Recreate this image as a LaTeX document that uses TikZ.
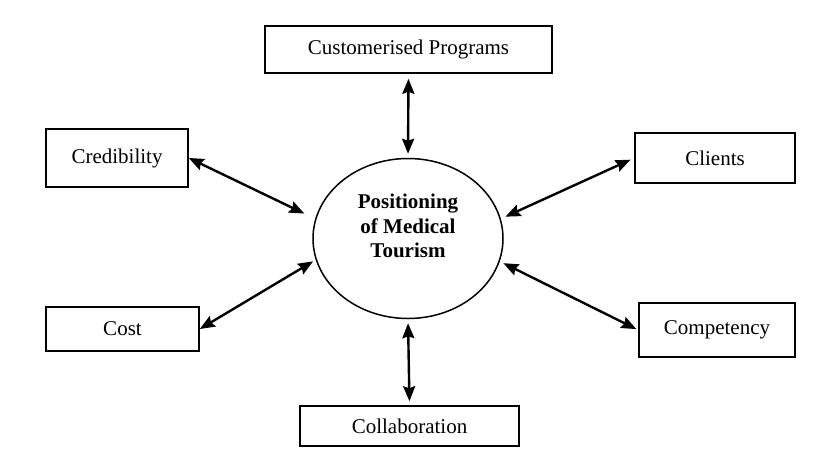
\documentclass[tikz,border=0pt]{standalone}
\usepackage{fontspec}
\setmainfont{Liberation Serif}
\usetikzlibrary{arrows.meta,shapes.geometric}
\begin{document}
\begin{tikzpicture}[x=1pt,y=-1pt,
  boxnode/.style={draw=black, line width=1.6pt, inner sep=0pt, font=\fontsize{21}{24.5}\selectfont},
  arr/.style={line width=2.4pt, {Stealth[length=15pt,width=12pt,inset=2pt]}-{Stealth[length=15pt,width=12pt,inset=2pt]}}]
\useasboundingbox (0,0) rectangle (835,469);
\fill[white] (0,0) rectangle (835,469);
\node[boxnode, minimum width=287pt, minimum height=47pt] (prog) at (408.5,49.5) {Customerised Programs};
\node[boxnode, minimum width=142pt, minimum height=58pt] (cred) at (117,158) {Credibility};
\node[boxnode, minimum width=160pt, minimum height=50pt] (cli) at (715,158) {Clients};
\node[boxnode, minimum width=153pt, minimum height=44pt] (cost) at (122.5,329) {Cost};
\node[boxnode, minimum width=156pt, minimum height=54pt] (comp) at (717,330) {Competency};
\node[boxnode, minimum width=219pt, minimum height=40pt] (col) at (409.5,426) {Collaboration};
\node[draw=black, line width=1.5pt, ellipse, minimum width=190pt, minimum height=160pt, inner sep=0pt] (c) at (408,238.5) {};
\node[font=\fontsize{21}{24.5}\selectfont\bfseries, align=center, inner sep=0pt] (ct) at (408,226) {Positioning\\of Medical\\Tourism};
\draw[arr, shorten <=5pt, shorten >=4pt] (prog.south) -- (c.north);
\draw[arr, shorten <=4pt, shorten >=4pt] (c.south) -- (col.north);
\draw[arr, shorten >=12pt] (cred.east) -- (c.168);
\draw[arr, shorten >=3pt] (cost.east) -- (c.193);
\draw[arr, shorten <=4pt, shorten >=5pt] (cli.west) -- (c.12);
\draw[arr, shorten <=2pt, shorten >=4pt] (comp.west) -- (c.346);
\end{tikzpicture}
\end{document}
